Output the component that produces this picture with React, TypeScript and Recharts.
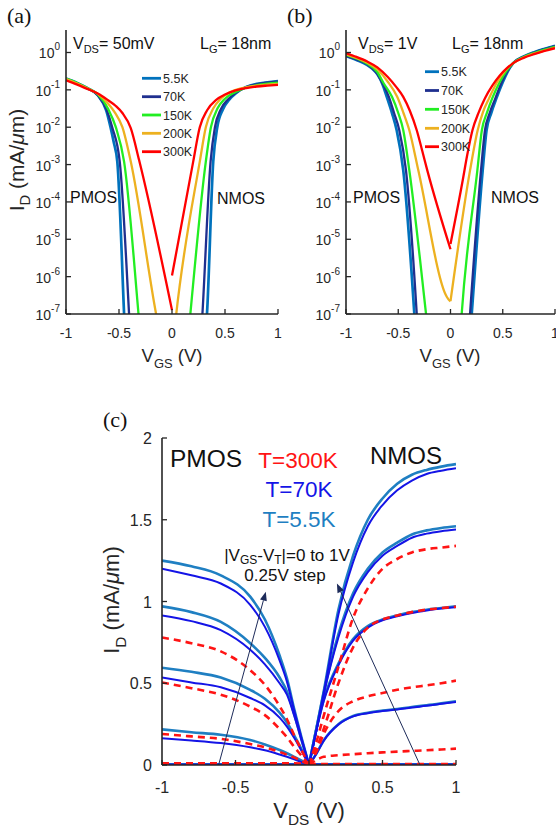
import React from 'react';
import { LineChart, Line, XAxis, YAxis, ReferenceLine } from 'recharts';

const FONT = "'Liberation Sans', Arial, Helvetica, sans-serif";
const SERIF = "'Liberation Serif', 'Times New Roman', serif";
const AX = '#262626';

type Pt = [number, number];

// ---------- shared ----------
const tempLabels = ['5.5K', '70K', '150K', '200K', '300K'];
const tempColors = ['#0072BD', '#1f2f8f', '#22ee22', '#EDB120', '#ff0000'];
const vTicks = [-1, -0.5, 0, 0.5, 1];
const logTicks = [1e-7, 1e-6, 1e-5, 1e-4, 1e-3, 1e-2, 1e-1, 1];

// ---------- panel (a): V_DS = 50 mV ----------
const aP_55: Pt[] = [[-1, 0.2], [-0.9, 0.155], [-0.8, 0.112], [-0.7, 0.072], [-0.62, 0.028], [-0.58, 0.01], [-0.55, 4e-3], [-0.516, 1.2e-3], [-0.452, 1e-7], [-0.44, 1.6e-8]];
const aP_70: Pt[] = [[-1, 0.195], [-0.9, 0.152], [-0.8, 0.11], [-0.7, 0.072], [-0.62, 0.031], [-0.564, 0.01], [-0.493, 1.2e-3], [-0.405, 1e-7], [-0.39, 1.6e-8]];
const aP_150: Pt[] = [[-1, 0.2], [-0.9, 0.155], [-0.8, 0.112], [-0.7, 0.076], [-0.6, 0.03], [-0.53, 0.01], [-0.452, 1.2e-3], [-0.316, 1e-7], [-0.3, 3e-8]];
const aP_200: Pt[] = [[-1, 0.195], [-0.9, 0.15], [-0.8, 0.11], [-0.7, 0.078], [-0.6, 0.042], [-0.54, 0.025], [-0.468, 0.01], [-0.389, 1.2e-3], [-0.15, 1e-7], [-0.13, 5e-8]];
const aP_300: Pt[] = [[-1, 0.18], [-0.9, 0.14], [-0.8, 0.106], [-0.7, 0.08], [-0.6, 0.052], [-0.53, 0.037], [-0.468, 0.024], [-0.389, 0.0095], [-0.31, 1.3e-3], [0, 1.27e-7]];
const aN_55: Pt[] = [[0.31, 1.6e-8], [0.33, 1e-7], [0.389, 1.2e-3], [0.427, 0.01], [0.48, 0.03], [0.54, 0.055], [0.6, 0.08], [0.7, 0.12], [0.8, 0.145], [0.9, 0.16], [1, 0.172]];
const aN_70: Pt[] = [[0.27, 1.6e-8], [0.287, 1e-7], [0.364, 1.2e-3], [0.405, 0.01], [0.46, 0.03], [0.53, 0.056], [0.6, 0.083], [0.7, 0.118], [0.8, 0.14], [0.9, 0.155], [1, 0.165]];
const aN_150: Pt[] = [[0.15, 2e-8], [0.173, 1e-7], [0.319, 1.2e-3], [0.367, 0.01], [0.43, 0.032], [0.5, 0.058], [0.6, 0.088], [0.7, 0.115], [0.8, 0.133], [0.9, 0.146], [1, 0.155]];
const aN_200: Pt[] = [[0.02, 3e-8], [0.04, 1e-7], [0.262, 1.2e-3], [0.319, 0.01], [0.39, 0.032], [0.46, 0.058], [0.55, 0.087], [0.65, 0.11], [0.8, 0.13], [0.9, 0.138], [1, 0.145]];
const aN_300: Pt[] = [[0, 1.07e-6], [0.2, 1.2e-3], [0.262, 0.01], [0.33, 0.028], [0.42, 0.055], [0.5, 0.075], [0.6, 0.097], [0.7, 0.112], [0.8, 0.123], [0.9, 0.13], [1, 0.136]];

// ---------- panel (b): V_DS = 1 V ----------
const bP_55: Pt[] = [[-1, 0.8], [-0.9, 0.63], [-0.8, 0.47], [-0.75, 0.37], [-0.7, 0.26], [-0.65, 0.14], [-0.61, 0.065], [-0.56, 0.024], [-0.515, 8.3e-3], [-0.452, 7e-4], [-0.346, 1e-7], [-0.33, 2e-8]];
const bP_70: Pt[] = [[-1, 0.82], [-0.9, 0.65], [-0.8, 0.49], [-0.75, 0.38], [-0.7, 0.27], [-0.65, 0.15], [-0.59, 0.065], [-0.54, 0.024], [-0.49, 8.3e-3], [-0.426, 7e-4], [-0.323, 1e-7], [-0.31, 2.5e-8]];
const bP_150: Pt[] = [[-1, 0.87], [-0.9, 0.69], [-0.8, 0.51], [-0.7, 0.3], [-0.64, 0.15], [-0.56, 0.065], [-0.5, 0.024], [-0.452, 8.3e-3], [-0.394, 7e-4], [-0.234, 1e-7], [-0.21, 2.5e-8]];
const bP_200: Pt[] = [[-1, 0.9], [-0.9, 0.72], [-0.8, 0.54], [-0.7, 0.35], [-0.6, 0.165], [-0.51, 0.065], [-0.45, 0.024], [-0.394, 8.3e-3], [-0.308, 7e-4], [-0.036, 2.9e-7], [-0.01, 2.3e-7], [0, 2.2e-7]];
const bP_300: Pt[] = [[-1, 0.95], [-0.9, 0.76], [-0.8, 0.58], [-0.7, 0.4], [-0.6, 0.22], [-0.52, 0.12], [-0.452, 0.065], [-0.39, 0.028], [-0.323, 8.3e-3], [-0.27, 2.3e-3], [-0.222, 7e-4], [0, 5.4e-6]];
const bN_55: Pt[] = [[0.185, 2e-8], [0.203, 1e-7], [0.308, 7e-4], [0.345, 8.3e-3], [0.39, 0.024], [0.44, 0.06], [0.5, 0.16], [0.55, 0.32], [0.6, 0.52], [0.7, 0.78], [0.8, 1.02], [0.9, 1.26], [1, 1.52]];
const bN_70: Pt[] = [[0.17, 2e-8], [0.187, 1e-7], [0.292, 7e-4], [0.33, 8.3e-3], [0.375, 0.024], [0.43, 0.06], [0.49, 0.16], [0.545, 0.32], [0.6, 0.52], [0.7, 0.77], [0.8, 1.0], [0.9, 1.23], [1, 1.48]];
const bN_150: Pt[] = [[0.09, 2e-8], [0.107, 1e-7], [0.257, 7e-4], [0.3, 8.3e-3], [0.35, 0.025], [0.4, 0.06], [0.47, 0.16], [0.535, 0.32], [0.6, 0.52], [0.7, 0.76], [0.8, 0.97], [0.9, 1.19], [1, 1.42]];
const bN_200: Pt[] = [[0, 2.2e-7], [0.187, 7e-4], [0.26, 8.3e-3], [0.31, 0.025], [0.37, 0.06], [0.44, 0.15], [0.52, 0.32], [0.6, 0.52], [0.7, 0.74], [0.8, 0.93], [0.9, 1.13], [1, 1.36]];
const bN_300: Pt[] = [[0, 7.5e-6], [0.117, 3.8e-4], [0.16, 1.8e-3], [0.21, 8.3e-3], [0.27, 0.025], [0.33, 0.06], [0.4, 0.13], [0.47, 0.24], [0.54, 0.38], [0.6, 0.52], [0.7, 0.72], [0.8, 0.9], [0.9, 1.1], [1, 1.3]];

// ---------- panel (c): output characteristics ----------
const cVP = [-1, -0.8, -0.6, -0.4, -0.3, -0.2, -0.15, -0.1, -0.05, 0];
const cVN = [0, 0.05, 0.1, 0.2, 0.3, 0.4, 0.5, 0.6, 0.7, 0.8, 0.9, 1];

const c55P1 = [1.25, 1.215, 1.16, 1.03, 0.89, 0.67, 0.53, 0.34, 0.165, 0];
const c55P2 = [0.97, 0.935, 0.875, 0.745, 0.655, 0.535, 0.45, 0.31, 0.15, 0];
const c55P3 = [0.595, 0.57, 0.535, 0.46, 0.405, 0.32, 0.26, 0.18, 0.095, 0];
const c55P4 = [0.218, 0.2, 0.185, 0.153, 0.126, 0.092, 0.072, 0.05, 0.027, 0];
const c55P0 = [0.005, 0.005, 0.005, 0.005, 0.005, 0.005, 0.005, 0.005, 0.004, 0];
const c70P1 = [1.2, 1.16, 1.11, 0.98, 0.845, 0.64, 0.51, 0.33, 0.16, 0];
const c70P2 = [0.915, 0.88, 0.825, 0.705, 0.615, 0.5, 0.43, 0.3, 0.15, 0];
const c70P3 = [0.535, 0.505, 0.475, 0.41, 0.365, 0.29, 0.235, 0.165, 0.085, 0];
const c70P4 = [0.163, 0.15, 0.134, 0.108, 0.09, 0.064, 0.05, 0.035, 0.018, 0];
const c70P0 = [0.003, 0.003, 0.003, 0.003, 0.003, 0.003, 0.003, 0.003, 0.003, 0];
const c300P1 = [0.78, 0.745, 0.695, 0.58, 0.49, 0.36, 0.28, 0.18, 0.09, 0];
const c300P2 = [0.505, 0.47, 0.43, 0.357, 0.305, 0.22, 0.17, 0.11, 0.055, 0];
const c300P3 = [0.19, 0.175, 0.16, 0.128, 0.108, 0.08, 0.063, 0.045, 0.024, 0];
const c300P0 = [0.01, 0.01, 0.01, 0.01, 0.01, 0.01, 0.01, 0.01, 0.008, 0];

const c55N1 = [0, 0.22, 0.45, 0.95, 1.28, 1.5, 1.63, 1.72, 1.775, 1.805, 1.825, 1.84];
const c55N2 = [0, 0.22, 0.44, 0.8, 1.05, 1.2, 1.3, 1.36, 1.41, 1.435, 1.45, 1.46];
const c55N3 = [0, 0.22, 0.4, 0.62, 0.77, 0.85, 0.89, 0.915, 0.935, 0.95, 0.96, 0.97];
const c55N4 = [0, 0.07, 0.15, 0.25, 0.3, 0.32, 0.333, 0.343, 0.355, 0.365, 0.377, 0.39];
const c55N0 = [0, 0.005, 0.005, 0.005, 0.005, 0.005, 0.005, 0.005, 0.005, 0.005, 0.005, 0.005];
const c70N1 = [0, 0.21, 0.44, 0.92, 1.24, 1.46, 1.59, 1.68, 1.74, 1.78, 1.8, 1.815];
const c70N2 = [0, 0.21, 0.43, 0.78, 1.03, 1.18, 1.28, 1.34, 1.39, 1.415, 1.43, 1.44];
const c70N3 = [0, 0.21, 0.39, 0.61, 0.76, 0.84, 0.885, 0.91, 0.93, 0.945, 0.957, 0.965];
const c70N4 = [0, 0.068, 0.148, 0.247, 0.297, 0.317, 0.33, 0.34, 0.352, 0.362, 0.374, 0.386];
const c70N0 = [0, 0.003, 0.003, 0.003, 0.003, 0.003, 0.003, 0.003, 0.003, 0.003, 0.003, 0.003];
const c300N1 = [0, 0.14, 0.3, 0.6, 0.9, 1.08, 1.2, 1.26, 1.3, 1.32, 1.33, 1.34];
const c300N2 = [0, 0.1, 0.22, 0.5, 0.72, 0.84, 0.89, 0.915, 0.935, 0.95, 0.96, 0.968];
const c300N3 = [0, 0.08, 0.19, 0.33, 0.39, 0.42, 0.44, 0.46, 0.475, 0.487, 0.5, 0.516];
const c300N4 = [0, 0.03, 0.05, 0.06, 0.066, 0.072, 0.077, 0.082, 0.086, 0.09, 0.095, 0.1];
const c300N0 = [0, 0.006, 0.006, 0.006, 0.006, 0.006, 0.006, 0.006, 0.006, 0.006, 0.006, 0.006];

const cTicksY = [0, 0.5, 1, 1.5, 2];

// ---------- helpers ----------
const fromPts = (pts: Pt[]) => pts.map(([v, i]) => ({ v, i }));
const fromGrid = (xs: number[], ys: number[]) => xs.map((v, k) => ({ v, i: ys[k] }));

const panelA = [
  [aP_55, aN_55], [aP_70, aN_70], [aP_150, aN_150], [aP_200, aN_200], [aP_300, aN_300],
];
const panelB = [
  [bP_55, bN_55], [bP_70, bN_70], [bP_150, bN_150], [bP_200, bN_200], [bP_300, bN_300],
];

const C_LB = '#1f7fc2';
const C_B = '#1414e6';
const C_R = '#ff1414';

const cSeries = [
  { color: C_LB, w: 2.6, dash: undefined, p: [c55P1, c55P2, c55P3, c55P4, c55P0], n: [c55N1, c55N2, c55N3, c55N4, c55N0] },
  { color: C_B, w: 2, dash: undefined, p: [c70P1, c70P2, c70P3, c70P4, c70P0], n: [c70N1, c70N2, c70N3, c70N4, c70N0] },
  { color: C_R, w: 2.6, dash: '7 5', p: [c300P1, c300P2, c300P3, c300P0], n: [c300N1, c300N2, c300N3, c300N4, c300N0] },
];

// ---------- tick renderers ----------
const LogTick = (props: any) => {
  const { x, y, payload } = props;
  const e = Math.round(Math.log10(payload.value));
  return (
    <text x={x - 6} y={y + 6} textAnchor="end" fontSize={14} fill={AX} fontFamily={FONT}>
      10<tspan dy={-8} fontSize={10}>{String(e)}</tspan>
    </text>
  );
};

const XTickSmall = (props: any) => {
  const { x, y, payload } = props;
  return (
    <text x={x} y={y + 24} textAnchor="middle" fontSize={14} fill={AX} fontFamily={FONT}>
      {String(payload.value)}
    </text>
  );
};

const XTickBig = (props: any) => {
  const { x, y, payload } = props;
  return (
    <text x={x} y={y + 28} textAnchor="middle" fontSize={16} fill={AX} fontFamily={FONT}>
      {String(payload.value)}
    </text>
  );
};

const YTickBig = (props: any) => {
  const { x, y, payload } = props;
  return (
    <text x={x - 10} y={y + 6} textAnchor="end" fontSize={16} fill={AX} fontFamily={FONT}>
      {String(payload.value)}
    </text>
  );
};

const Arrow = (props: any) => {
  const { x1, y1, x2, y2 } = props;
  if ([x1, y1, x2, y2].some((q) => typeof q !== 'number' || isNaN(q))) return <g />;
  const ang = Math.atan2(y2 - y1, x2 - x1);
  const L = 9;
  const Wd = 3.5;
  const bx = x2 - L * Math.cos(ang);
  const by = y2 - L * Math.sin(ang);
  const px = -Math.sin(ang) * Wd;
  const py = Math.cos(ang) * Wd;
  return (
    <g>
      <line x1={x1} y1={y1} x2={bx} y2={by} stroke="#1d2b5a" strokeWidth={1} />
      <polygon points={`${x2},${y2} ${bx + px},${by + py} ${bx - px},${by - py}`} fill="#1d2b5a" />
    </g>
  );
};

const axisLineStyle = { stroke: AX, strokeWidth: 1.6 };
const tickLineStyle = { stroke: AX, strokeWidth: 1.3 };

function LogPanel({ left, width, rightMargin, data }: { left: number; width: number; rightMargin: number; data: Pt[][][] }) {
  return (
    <div style={{ position: 'absolute', left, top: 0 }}>
      <LineChart width={width} height={380} margin={{ top: 30, right: rightMargin, bottom: 0, left: 0 }}>
        <XAxis xAxisId="b" type="number" dataKey="v" domain={[-1, 1]} ticks={vTicks} orientation="bottom" height={66}
          tickSize={-5} tickMargin={5} tick={<XTickSmall />} axisLine={axisLineStyle} tickLine={tickLineStyle} allowDataOverflow interval={0} />
        <XAxis xAxisId="t" type="number" dataKey="v" domain={[-1, 1]} ticks={vTicks} orientation="top" height={0}
          tickSize={-5} tick={false} axisLine={axisLineStyle} tickLine={tickLineStyle} allowDataOverflow interval={0} />
        <YAxis yAxisId="l" type="number" scale="log" domain={[1e-7, 4]} ticks={logTicks} width={66} allowDataOverflow
          tickSize={-5} tickMargin={5} tick={<LogTick />} axisLine={axisLineStyle} tickLine={tickLineStyle} interval={0} />
        <YAxis yAxisId="r" orientation="right" type="number" scale="log" domain={[1e-7, 4]} ticks={logTicks} width={0} allowDataOverflow
          tickSize={-5} tick={false} axisLine={axisLineStyle} tickLine={tickLineStyle} interval={0} />
        {data.map((pair, k) =>
          pair.map((pts, s) => (
            <Line key={`${k}-${s}`} data={fromPts(pts)} dataKey="i" xAxisId="b" yAxisId="l" type="monotone"
              stroke={tempColors[k]} strokeWidth={k === 0 ? 2.7 : 2.3} dot={false} activeDot={false} isAnimationActive={false} />
          ))
        )}
      </LineChart>
    </div>
  );
}

function PanelC() {
  return (
    <div style={{ position: 'absolute', left: 90, top: 425 }}>
      <LineChart width={380} height={410} margin={{ top: 13, right: 14, bottom: 0, left: 0 }}>
        <XAxis xAxisId="b" type="number" dataKey="v" domain={[-1, 1]} ticks={vTicks} orientation="bottom" height={70}
          tickSize={-5} tickMargin={5} tick={<XTickBig />} axisLine={axisLineStyle} tickLine={tickLineStyle} allowDataOverflow interval={0} />
        <XAxis xAxisId="t" type="number" dataKey="v" domain={[-1, 1]} ticks={vTicks} orientation="top" height={0}
          tickSize={-5} tick={false} axisLine={axisLineStyle} tickLine={tickLineStyle} allowDataOverflow interval={0} />
        <YAxis yAxisId="l" type="number" domain={[0, 2]} ticks={cTicksY} width={72} allowDataOverflow
          tickSize={-5} tickMargin={5} tick={<YTickBig />} axisLine={axisLineStyle} tickLine={tickLineStyle} interval={0} />
        <YAxis yAxisId="r" orientation="right" type="number" domain={[0, 2]} ticks={cTicksY} width={0} allowDataOverflow
          tickSize={-5} tick={false} axisLine={axisLineStyle} tickLine={tickLineStyle} interval={0} />
        {cSeries.map((s, k) => [
          ...s.p.map((ys, j) => (
            <Line key={`p${k}-${j}`} data={fromGrid(cVP, ys)} dataKey="i" xAxisId="b" yAxisId="l" type="monotone"
              stroke={s.color} strokeWidth={s.w} strokeDasharray={s.dash} dot={false} activeDot={false} isAnimationActive={false} />
          )),
          ...s.n.map((ys, j) => (
            <Line key={`n${k}-${j}`} data={fromGrid(cVN, ys)} dataKey="i" xAxisId="b" yAxisId="l" type="monotone"
              stroke={s.color} strokeWidth={s.w} strokeDasharray={s.dash} dot={false} activeDot={false} isAnimationActive={false} />
          )),
        ])}
        <ReferenceLine xAxisId="b" yAxisId="l" segment={[{ x: -0.615, y: 0 }, { x: -0.294, y: 1.06 }]} shape={<Arrow />} ifOverflow="visible" />
        <ReferenceLine xAxisId="b" yAxisId="l" segment={[{ x: 0.755, y: 0 }, { x: 0.19, y: 1.11 }]} shape={<Arrow />} ifOverflow="visible" />
      </LineChart>
    </div>
  );
}

function Overlay() {
  const legend = (x1: number, x2: number, tx: number, rows: number[]) =>
    rows.map((ry, k) => (
      <g key={`${x1}-${k}`}>
        <line x1={x1} y1={ry} x2={x2} y2={ry} stroke={tempColors[k]} strokeWidth={2.8} />
        <text x={tx} y={ry + 4.5} fontSize={12.5} fontFamily={FONT} fill={AX}>{tempLabels[k]}</text>
      </g>
    ));
  const yTitle = (x: number, y: number, fs: number) => (
    <text x={x} y={y} transform={`rotate(-90 ${x} ${y})`} textAnchor="middle" fontSize={fs} fontFamily={FONT} fill={AX}>
      I<tspan dy={fs * 0.3} fontSize={fs * 0.7}>D</tspan><tspan dy={-fs * 0.3}> (mA/</tspan><tspan fontStyle="italic">μ</tspan>m)
    </text>
  );
  const xTitle = (cx: number, y: number, fs: number, sub: string) => (
    <text x={cx} y={y} textAnchor="middle" fontSize={fs} fontFamily={FONT} fill={AX}>
      V<tspan dy={fs * 0.3} fontSize={fs * 0.7}>{sub}</tspan><tspan dy={-fs * 0.3}> (V)</tspan>
    </text>
  );
  return (
    <svg width={556} height={835} style={{ position: 'absolute', left: 0, top: 0, pointerEvents: 'none' }}>
      <text x={7} y={23} fontSize={22} fontFamily={SERIF} fill="#111">(a)</text>
      <text x={287} y={23} fontSize={22} fontFamily={SERIF} fill="#111">(b)</text>
      <text x={103} y={427} fontSize={22} fontFamily={SERIF} fill="#111">(c)</text>

      <text x={73} y={49} fontSize={16} fontFamily={FONT} fill="#111">V<tspan dy={4} fontSize={11}>DS</tspan><tspan dy={-4}>= 50mV</tspan></text>
      <text x={200} y={49} fontSize={16} fontFamily={FONT} fill="#111">L<tspan dy={4} fontSize={11}>G</tspan><tspan dy={-4}>= 18nm</tspan></text>
      <text x={358} y={49} fontSize={16} fontFamily={FONT} fill="#111">V<tspan dy={4} fontSize={11}>DS</tspan><tspan dy={-4}>= 1V</tspan></text>
      <text x={452} y={49} fontSize={16} fontFamily={FONT} fill="#111">L<tspan dy={4} fontSize={11}>G</tspan><tspan dy={-4}>= 18nm</tspan></text>

      <text x={70} y={203} fontSize={16} fontFamily={FONT} fill="#111">PMOS</text>
      <text x={217} y={204} fontSize={16} fontFamily={FONT} fill="#111">NMOS</text>
      <text x={353} y={203} fontSize={16} fontFamily={FONT} fill="#111">PMOS</text>
      <text x={491} y={203} fontSize={16} fontFamily={FONT} fill="#111">NMOS</text>

      {legend(142, 161, 163, [78.3, 96.7, 115, 133.3, 151.7])}
      {legend(425, 439, 441, [71.7, 90.5, 109.3, 128.3, 146.7])}

      {xTitle(172, 362, 18.5, 'GS')}
      {xTitle(450, 362, 18.5, 'GS')}
      {yTitle(24, 160, 21)}

      {xTitle(309, 818, 22, 'DS')}
      {yTitle(119, 600, 22)}

      <text x={170} y={467} fontSize={24.5} fontFamily={FONT} fill="#111">PMOS</text>
      <text x={370} y={464} fontSize={24} fontFamily={FONT} fill="#111">NMOS</text>
      <text x={298} y={468} textAnchor="middle" fontSize={22.5} fontFamily={FONT} fill={C_R}>T=300K</text>
      <text x={299} y={497} textAnchor="middle" fontSize={22.5} fontFamily={FONT} fill={C_B}>T=70K</text>
      <text x={299} y={527} textAnchor="middle" fontSize={22.5} fontFamily={FONT} fill={C_LB}>T=5.5K</text>
      <text x={287} y={561} textAnchor="middle" fontSize={17} fontFamily={FONT} fill="#111">
        |V<tspan dy={3} fontSize={12}>GS</tspan><tspan dy={-3}>-V</tspan><tspan dy={3} fontSize={12}>T</tspan><tspan dy={-3}>|=0 to 1V</tspan>
      </text>
      <text x={285} y={581} textAnchor="middle" fontSize={17} fontFamily={FONT} fill="#111">0.25V step</text>
    </svg>
  );
}

export default function App() {
  return (
    <div style={{ position: 'absolute', left: 0, top: 0, width: 556, height: 835, background: '#fff', overflow: 'hidden' }}>
      <LogPanel left={0} width={292} rightMargin={14} data={panelA} />
      <LogPanel left={280} width={276} rightMargin={1} data={panelB} />
      <PanelC />
      <Overlay />
    </div>
  );
}
